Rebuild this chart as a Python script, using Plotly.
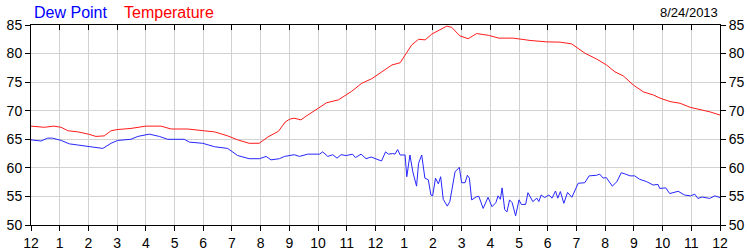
import plotly.graph_objects as go

# ---- data (hours after midnight, degrees F) ----
temp_hours = [0, 0.46, 0.8, 1.05, 1.28, 1.63, 2.0, 2.26, 2.55, 2.79, 3.0, 3.48, 4.0, 4.53, 4.88,
              5.46, 6.0, 6.39, 6.85, 7.2, 7.6, 7.95, 8.25, 8.62, 8.85, 9.0, 9.16, 9.4, 9.6, 10.03,
              10.3, 10.71, 10.94, 11.17, 11.52, 11.87, 12.22, 12.57, 12.86, 13.03, 13.26, 13.5,
              13.73, 13.96, 14.25, 14.48, 14.65, 14.94, 15.23, 15.52, 15.93, 16.3, 16.8, 17.03,
              17.38, 17.96, 18.43, 18.83, 19.06, 19.3, 19.7, 20.05, 20.34, 20.63, 20.98, 21.33,
              21.68, 21.91, 22.26, 22.61, 22.96, 23.3, 23.65, 24.0]
temp_values = [67.3, 67.1, 67.3, 67.1, 66.5, 66.3, 65.9, 65.5, 65.6, 66.5, 66.7, 66.9, 67.3, 67.3, 66.8,
               66.8, 66.5, 66.3, 65.6, 64.9, 64.3, 64.3, 65.4, 66.4, 68.0, 68.5, 68.7, 68.4, 69.1, 70.5,
               71.4, 71.9, 72.7, 73.4, 74.8, 75.6, 76.8, 78.0, 78.4, 79.7, 81.5, 82.5,
               82.4, 83.4, 84.2, 84.8, 84.6, 83.1, 82.6, 83.5, 83.2, 82.7, 82.7, 82.5,
               82.3, 82.05, 82.0, 81.7, 80.9, 80.05, 79.05, 78.0, 76.8, 76.1, 74.5, 73.3,
               72.75, 72.2, 71.6, 71.3, 70.6, 70.25, 69.8, 69.25]

dew_hours = [0, 0.35, 0.58, 0.75, 1.05, 1.34, 1.63, 2.0, 2.26, 2.5, 2.79, 3.02, 3.48, 3.72, 4.12,
             4.47, 4.76, 5.34, 5.52, 5.98, 6.39, 6.85, 7.2, 7.6, 7.96, 8.19, 8.36, 8.65, 8.83,
             9.17, 9.35, 9.64, 10.05, 10.16, 10.34, 10.51, 10.66, 10.8, 10.98, 11.2, 11.3, 11.5,
             11.67, 11.85, 12.21, 12.35, 12.45, 12.6, 12.68, 12.77, 12.86, 13.03, 13.09, 13.2,
             13.3, 13.43, 13.5, 13.61, 13.72, 13.84, 13.93, 13.99, 14.09, 14.19, 14.27, 14.36,
             14.5, 14.59, 14.77, 14.92, 15.0, 15.12, 15.2, 15.27, 15.35, 15.52, 15.6, 15.75,
             15.92, 16.06, 16.19, 16.27, 16.35, 16.41, 16.5, 16.58, 16.67, 16.76, 16.88, 17.0,
             17.08, 17.23, 17.31, 17.48, 17.62, 17.69, 17.77, 17.89, 18.04, 18.15, 18.27, 18.35,
             18.44, 18.56, 18.69, 18.84, 19.06, 19.29, 19.44, 19.7, 19.81, 19.93, 20.04, 20.25,
             20.41, 20.56, 20.71, 20.87, 21.03, 21.2, 21.44, 21.67, 21.84, 21.9, 22.11, 22.25,
             22.54, 22.77, 22.97, 23.12, 23.23, 23.38, 23.64, 23.82, 24.0]
dew_values = [64.9, 64.7, 65.2, 65.2, 64.8, 64.2, 64.0, 63.7, 63.5, 63.4, 64.3, 64.8, 65.0, 65.5, 65.9,
              65.5, 65.0, 65.0, 64.5, 64.3, 63.7, 63.4, 62.15, 61.6, 61.6, 62.0, 61.4, 61.6, 62.0,
              62.3, 62.0, 62.4, 62.4, 62.8, 62.0, 62.3, 61.7, 62.3, 62.15, 62.4, 61.8, 62.4,
              61.6, 61.9, 61.2, 62.8, 62.4, 62.5, 62.4, 63.2, 62.25, 62.25, 58.45, 62.25,
              59.3, 56.8, 60.8, 62.25, 58.2, 57.9, 55.25, 55.1, 58.2, 57.2, 58.45, 54.5,
              53.3, 54.1, 59.3, 60.1, 57.4, 57.4, 58.7, 58.2, 54.4, 54.95, 55.0, 52.9,
              54.85, 53.2, 53.9, 55.1, 54.5, 56.5, 52.7, 52.3, 54.4, 53.9, 51.6, 54.4,
              53.6, 53.6, 55.65, 54.1, 54.7, 54.1, 55.25, 54.8, 55.25, 54.7, 55.95, 54.7,
              55.85, 53.8, 55.7, 54.85, 57.3, 57.4, 58.6, 58.7, 58.9, 58.2, 58.3, 56.8,
              57.6, 59.15, 58.9, 58.6, 58.6, 58.0, 57.6, 57.0, 57.1, 56.4, 56.5, 55.5,
              55.9, 55.25, 55.1, 55.4, 54.65, 54.9, 54.65, 55.1, 54.8]

x_tick_vals = list(range(0, 25))
x_tick_text = ["12"] + [str(i) for i in range(1, 12)] + ["12"] + [str(i) for i in range(1, 12)] + ["12"]
y_tick_vals = [50, 55, 60, 65, 70, 75, 80, 85]

title_dew = "Dew Point"
title_temp = "Temperature"
date_text = "8/24/2013"

FONT = "Liberation Sans, Arial, sans-serif"
GRID = "#d2d2d2"

fig = go.Figure()
fig.add_trace(go.Scatter(x=dew_hours, y=dew_values, mode="lines",
                         line=dict(color="#2626ff", width=1), xaxis="x", yaxis="y",
                         showlegend=False, hoverinfo="skip"))
fig.add_trace(go.Scatter(x=temp_hours, y=temp_values, mode="lines",
                         line=dict(color="#ff1a1a", width=1), xaxis="x2", yaxis="y2",
                         showlegend=False, hoverinfo="skip"))

axis_common = dict(showline=True, linecolor="black", linewidth=1, zeroline=False,
                   tickcolor="black", ticklen=5, tickwidth=1, automargin=False,
                   tickfont=dict(family=FONT, size=14, color="#000000"))

fig.update_layout(
    width=750, height=250,
    margin=dict(l=31, r=30, t=25, b=25, pad=0),
    paper_bgcolor="white", plot_bgcolor="white",
    font=dict(family=FONT, size=14, color="black"),
    xaxis=dict(range=[0, 24], tickmode="array", tickvals=x_tick_vals, ticktext=x_tick_text,
               ticks="outside", showgrid=True, gridcolor=GRID, gridwidth=1, **axis_common),
    xaxis2=dict(range=[0, 24], tickmode="array", tickvals=x_tick_vals, overlaying="x",
                side="top", ticks="inside", showticklabels=False, showgrid=False, **axis_common),
    yaxis=dict(range=[50, 85], tickmode="array", tickvals=y_tick_vals, ticks="outside",
               showgrid=True, gridcolor=GRID, gridwidth=1, **axis_common),
    yaxis2=dict(range=[50, 85], tickmode="array", tickvals=y_tick_vals, overlaying="y",
                side="right", ticks="outside", showgrid=False, **axis_common),
    annotations=[
        dict(text=title_dew, xref="paper", yref="paper", x=0, y=1, xanchor="left",
             yanchor="bottom", xshift=1, yshift=2, showarrow=False,
             font=dict(family=FONT, size=16, color="#0000ff")),
        dict(text=title_temp, xref="paper", yref="paper", x=0, y=1, xanchor="left",
             yanchor="bottom", xshift=91, yshift=2, showarrow=False,
             font=dict(family=FONT, size=16, color="#ff0000")),
        dict(text=date_text, xref="paper", yref="paper", x=1, y=1, xanchor="right",
             yanchor="bottom", xshift=0, yshift=3, showarrow=False,
             font=dict(family=FONT, size=13, color="black")),
    ],
)

fig.write_html("out.html")
